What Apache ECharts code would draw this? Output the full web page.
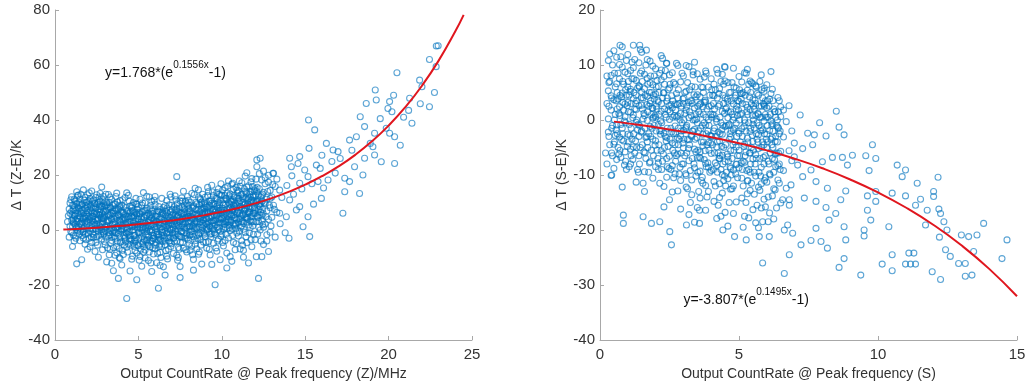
<!DOCTYPE html>
<html>
<head>
<meta charset="utf-8">
<script src="https://cdn.jsdelivr.net/npm/echarts@6/dist/echarts.min.js"></script>
<style>
  html, body { margin: 0; padding: 0; background: #fff; }
  #chart { width: 1029px; height: 390px; }
</style>
</head>
<body>
<div id="chart"></div>
<script>
// ΔT (Z-E) against output count rate at peak frequency (Z)
const zeScatter = [
  [0.8,5.2],[0.9,9.8],[0.9,1.4],[1.0,12.1],[1.0,3.6],[1.1,7.4],[1.1,-1.8],[1.2,10.6],[1.2,5.1],[1.3,0.8],[1.3,-12.3],[1.3,13.9],[1.4,8.2],[1.4,3.1],[1.5,-3.9],[1.5,6.7],[1.5,11.3],[1.6,1.9],[1.6,-10.8],[1.6,9.1],[1.7,4.4],[1.7,14.6],[1.7,-0.6],[1.8,7.9],[1.8,2.7],[1.8,-5.2],[1.9,10.2],[1.9,5.6],[1.9,0.3],[1.0,6.8],[1.2,2.2],[1.4,12.7],[1.6,6.0],[1.8,11.9],[1.1,4.0],[1.5,8.8],[1.7,-2.9],[1.9,3.3],[0.9,6.1],[1.3,9.4],
  [2.0,6.3],[2.0,-1.2],[2.1,11.4],[2.1,2.8],[2.2,8.1],[2.2,-4.6],[2.2,14.2],[2.3,4.9],[2.3,0.2],[2.4,9.7],[2.4,-7.8],[2.4,6.6],[2.5,2.1],[2.5,12.8],[2.5,-2.5],[2.6,7.3],[2.6,3.9],[2.6,-9.9],[2.7,10.5],[2.7,1.0],[2.7,5.4],[2.8,-3.3],[2.8,8.6],[2.8,15.6],[2.9,3.2],[2.9,-0.8],[2.9,6.9],[2.0,9.2],[2.1,4.5],[2.3,10.9],[2.4,1.6],[2.5,5.8],[2.6,-0.4],[2.7,13.3],[2.8,4.1],[2.9,9.6],[2.2,3.6],[2.6,10.1],[2.3,-2.7],[2.8,0.9],[2.1,-6.1],[2.9,12.2],
  [3.0,4.6],[3.0,-5.4],[3.0,10.3],[3.1,1.7],[3.1,7.2],[3.1,-11.6],[3.2,12.9],[3.2,3.4],[3.2,-2.2],[3.3,8.4],[3.3,-7.1],[3.3,5.5],[3.4,0.6],[3.4,11.1],[3.4,-3.8],[3.5,6.2],[3.5,-14.8],[3.5,2.6],[3.6,9.5],[3.6,-0.9],[3.6,-9.2],[3.7,4.3],[3.7,13.4],[3.7,-5.9],[3.8,7.6],[3.8,-17.6],[3.8,1.2],[3.9,10.7],[3.9,-2.9],[3.9,5.1],[3.0,1.1],[3.2,7.9],[3.4,4.0],[3.5,-6.4],[3.6,3.1],[3.8,-1.5],[3.9,8.1],[3.1,9.9],[3.3,-0.2],[3.7,-8.3],[3.3,12.0],[3.6,6.9],[3.9,-10.4],[3.4,-12.1],
  [4.0,3.7],[4.0,-4.2],[4.0,9.1],[4.1,0.4],[4.1,-8.9],[4.1,6.0],[4.2,11.8],[4.2,2.3],[4.2,-2.6],[4.3,-24.9],[4.3,7.1],[4.3,-6.3],[4.4,4.8],[4.4,-0.7],[4.4,12.6],[4.5,-14.9],[4.5,1.5],[4.5,8.7],[4.6,-3.4],[4.6,5.2],[4.6,-10.6],[4.7,10.0],[4.7,0.1],[4.7,3.0],[4.8,-7.5],[4.8,6.4],[4.8,-1.9],[4.9,-18.1],[4.9,9.3],[4.9,2.0],[4.0,-12.7],[4.2,5.6],[4.4,-5.1],[4.6,8.0],[4.8,1.1],[4.1,2.9],[4.3,-1.3],[4.5,4.2],[4.7,-4.8],[4.9,-8.4],[4.3,13.5],[4.7,6.6],[4.5,-2.1],[4.9,5.7],
  [5.0,3.9],[5.0,-5.7],[5.0,8.5],[5.1,0.8],[5.1,-9.6],[5.1,11.2],[5.2,4.7],[5.2,-2.4],[5.2,-13.2],[5.3,6.9],[5.3,1.4],[5.3,-4.4],[5.4,9.8],[5.4,-7.3],[5.4,2.6],[5.5,-0.5],[5.5,12.3],[5.5,5.3],[5.6,-11.1],[5.6,3.3],[5.6,-1.8],[5.7,7.7],[5.7,-6.2],[5.7,0.2],[5.8,-15.1],[5.8,4.5],[5.8,10.4],[5.9,-3.1],[5.9,1.9],[5.9,-8.7],[5.0,-1.0],[5.2,9.0],[5.4,-10.2],[5.6,6.1],[5.8,-4.0],[5.1,5.8],[5.3,-8.1],[5.5,2.0],[5.7,3.6],[5.9,6.8],[5.3,13.6],[5.6,-5.5],[5.0,1.7],[5.8,-0.9],
  [6.0,2.4],[6.0,-6.8],[6.0,9.4],[6.1,-1.6],[6.1,5.0],[6.1,-11.9],[6.2,-21.2],[6.2,3.8],[6.2,-3.7],[6.3,7.4],[6.3,0.6],[6.3,-8.2],[6.4,11.5],[6.4,-2.0],[6.4,4.1],[6.5,-13.4],[6.5,1.3],[6.5,8.2],[6.6,-5.4],[6.6,3.0],[6.6,-0.4],[6.7,6.3],[6.7,-9.5],[6.7,10.7],[6.8,-2.8],[6.8,1.8],[6.8,-7.0],[6.9,4.6],[6.9,-4.6],[6.9,13.0],[6.0,-3.2],[6.2,6.7],[6.4,-6.0],[6.6,8.9],[6.8,4.8],[6.1,1.2],[6.3,-5.2],[6.5,5.7],[6.7,-1.2],[6.9,0.0],[6.3,-12.9],[6.6,-16.4],[6.0,12.2],
  [7.0,3.5],[7.0,-5.0],[7.0,9.0],[7.1,0.9],[7.1,-8.5],[7.1,6.0],[7.2,12.4],[7.2,-1.7],[7.2,3.1],[7.3,19.4],[7.3,-4.1],[7.3,7.8],[7.4,1.6],[7.4,-10.0],[7.4,5.4],[7.5,10.6],[7.5,-2.3],[7.5,-13.3],[7.6,4.0],[7.6,8.4],[7.6,-0.6],[7.7,-6.6],[7.7,2.2],[7.7,14.1],[7.8,6.5],[7.8,-3.0],[7.8,0.3],[7.9,9.6],[7.9,-8.0],[7.9,4.4],[7.0,0.1],[7.2,7.3],[7.4,-6.4],[7.6,11.7],[7.8,2.7],[7.1,-2.8],[7.3,4.9],[7.5,1.0],[7.7,5.9],[7.9,-1.4],[7.5,-17.3],[7.3,-9.2],
  [8.0,4.8],[8.0,-3.6],[8.0,10.8],[8.1,1.3],[8.1,-7.4],[8.1,7.0],[8.2,13.3],[8.2,-0.4],[8.2,3.9],[8.3,-10.7],[8.3,8.9],[8.3,2.0],[8.4,5.6],[8.4,-5.2],[8.4,15.2],[8.5,0.7],[8.5,-2.1],[8.5,9.5],[8.6,4.2],[8.6,-8.8],[8.6,12.0],[8.7,6.6],[8.7,-1.0],[8.7,2.9],[8.8,-12.4],[8.8,10.1],[8.8,5.0],[8.9,-4.4],[8.9,8.0],[8.9,1.7],[8.0,7.7],[8.2,-5.9],[8.4,3.3],[8.6,14.6],[8.8,-0.2],[8.1,-1.9],[8.3,5.8],[8.5,-6.8],[8.7,11.4],[8.9,3.6],[8.3,-14.6],[8.7,-3.4],
  [9.0,5.7],[9.0,-2.4],[9.0,11.9],[9.1,2.3],[9.1,-6.6],[9.1,8.3],[9.2,14.0],[9.2,0.5],[9.2,4.6],[9.3,-9.1],[9.3,10.4],[9.3,6.9],[9.4,-1.3],[9.4,3.2],[9.4,16.3],[9.5,7.6],[9.5,-4.8],[9.5,12.5],[9.6,-19.9],[9.6,1.8],[9.6,9.2],[9.7,5.3],[9.7,-7.7],[9.7,13.6],[9.8,0.0],[9.8,6.2],[9.8,-3.3],[9.9,10.9],[9.9,3.9],[9.9,-10.8],[9.0,8.8],[9.2,-4.2],[9.4,9.7],[9.6,-1.6],[9.8,15.0],[9.1,4.1],[9.3,1.1],[9.5,3.4],[9.7,8.6],[9.9,7.1],[9.4,-12.5],[9.2,6.4],[9.8,2.6],
  [10.0,6.4],[10.0,-1.5],[10.0,12.7],[10.1,3.0],[10.1,-5.8],[10.1,9.3],[10.2,15.4],[10.2,1.0],[10.2,5.9],[10.3,-8.4],[10.3,11.0],[10.3,7.5],[10.4,-2.9],[10.4,3.7],[10.4,17.8],[10.5,8.2],[10.5,-0.3],[10.5,13.1],[10.6,-11.4],[10.6,5.0],[10.6,10.2],[10.7,1.9],[10.7,-4.5],[10.7,14.8],[10.8,6.8],[10.8,-7.2],[10.8,2.4],[10.9,11.8],[10.9,8.9],[10.9,-1.1],[10.0,4.3],[10.2,-3.8],[10.4,10.0],[10.6,16.6],[10.8,4.4],[10.1,0.2],[10.3,2.8],[10.5,5.6],[10.7,9.0],[10.9,3.8],[10.3,-13.8],[10.7,7.9],[10.5,-9.7],
  [11.0,7.3],[11.0,-2.2],[11.0,14.3],[11.1,4.1],[11.1,-6.9],[11.1,10.6],[11.2,17.2],[11.2,1.5],[11.2,8.0],[11.3,-9.9],[11.3,12.1],[11.3,5.5],[11.4,-0.9],[11.4,19.6],[11.4,9.4],[11.5,2.9],[11.5,15.6],[11.5,-4.6],[11.6,6.6],[11.6,11.4],[11.6,-12.0],[11.7,0.8],[11.7,13.9],[11.7,7.7],[11.8,-6.1],[11.8,4.9],[11.8,18.7],[11.9,9.9],[11.9,-1.6],[11.9,12.8],[11.0,2.6],[11.2,-3.9],[11.4,5.8],[11.6,16.1],[11.8,10.8],[11.1,15.9],[11.3,0.3],[11.5,8.7],[11.7,3.4],[11.9,6.2],[11.5,20.8],[11.3,-7.4],
  [12.0,6.0],[12.0,-3.5],[12.0,15.1],[12.1,25.5],[12.1,23.0],[12.1,10.4],[12.2,-17.6],[12.2,3.1],[12.2,12.6],[12.3,26.1],[12.3,0.0],[12.3,8.5],[12.4,18.2],[12.4,-9.7],[12.4,5.2],[12.5,13.7],[12.5,-5.3],[12.5,21.4],[12.6,9.6],[12.6,2.2],[12.6,16.8],[12.7,-1.7],[12.7,11.2],[12.7,6.9],[12.8,19.9],[12.8,-7.8],[12.8,3.8],[12.9,14.4],[12.9,8.1],[12.9,-0.8],[13.0,12.0],[13.0,4.6],[13.1,20.6],[13.1,9.0],[13.2,-2.6],[13.2,15.8],[13.3,6.4],[12.2,7.4],[12.5,1.0],[12.8,17.4],
  [13.47,14.5],[14.07,10.9],[14.67,8.5],[14.47,7.3],[15.17,4.8],[13.87,4.8],[14.87,1.2],[15.27,-2.4],[14.03,-3.0],[13.47,6.1],[13.07,20.6],[14.07,26.1],[14.17,23.0],[14.57,24.2],[14.97,21.8],[15.17,19.4],[15.77,17.6],[14.67,17.0],[14.67,26.7],[15.67,23.6],[16.37,18.2],[15.97,11.5],[17.26,6.1],[17.37,13.9],[18.26,13.3],[17.66,17.6],[17.37,18.8],[18.46,20.0],[17.96,23.0],[18.56,26.1],[19.16,27.3],[19.56,24.8],[20.36,24.2],[19.06,30.3],[15.23,29.7],[16.97,28.5],[16.67,29.1],[16.27,31.5],[15.57,36.4],[15.2,40.0],[18.56,37.6],[17.66,32.7],[18.07,33.9],[19.16,35.2],[20.36,33.9],[20.06,35.2],[19.86,37.0],[19.96,44.2],[20.2,43.0],[20.06,46.7],[19.26,47.3],[18.66,46.0],[19.2,50.9],[21.4,38.8],[20.9,41.0],[21.26,47.9],[22.0,52.1],[22.45,44.8],[22.75,50.0],[21.86,54.5],[20.5,57.2],[22.85,59.4],[22.45,62.0],[22.86,66.9],[22.97,67.0],
  [13.3,18.5],[13.6,11.8],[13.9,16.2],[14.3,13.0],[14.8,14.9],[15.4,16.8],[15.9,22.4],[16.1,15.3],[16.6,24.9],[16.8,20.7],[17.1,26.0],[13.5,2.3],[13.8,-1.0],[14.2,19.7],[15.5,9.4],[16.0,27.2],[17.8,29.0],[18.9,31.5],[19.5,40.5],[20.7,30.8],[21.2,43.5],[21.9,45.9],[20.3,49.0],[18.3,41.2],[12.07,-9.7]
];

// Heavily populated band below 13 MHz
const zeDense = [
  [0.75,3.0],[0.85,7.6],[0.95,-0.5],[1.05,9.0],[1.05,1.2],[1.15,5.5],[1.15,11.2],[1.25,-3.0],[1.25,7.0],[1.35,4.2],[1.35,0.0],[1.45,10.0],[1.45,-1.5],[0.95,11.0],[1.15,-4.0],[1.35,12.5],[0.85,-2.6],[1.25,3.5],[1.45,5.2],[1.05,-6.0],
  [1.55,2.5],[1.55,13.0],[1.65,-2.0],[1.65,7.5],[1.75,10.8],[1.75,1.2],[1.85,5.0],[1.85,-3.5],[1.95,8.4],[1.95,12.8],[2.05,-3.0],[2.05,3.8],[2.15,7.0],[2.15,0.5],[2.25,10.5],[2.25,-1.3],[2.35,6.0],[2.35,2.8],[2.45,-4.5],[2.45,11.8],[1.65,4.0],[1.85,9.0],[2.05,13.5],[2.25,5.0],[2.45,8.2],[1.95,-7.0],
  [2.55,4.2],[2.55,-5.5],[2.65,9.1],[2.65,1.5],[2.75,-1.8],[2.75,7.6],[2.85,11.0],[2.85,2.2],[2.95,-4.2],[2.95,5.5],[3.05,8.8],[3.05,-2.6],[3.15,3.5],[3.15,-6.5],[3.25,10.0],[3.25,0.5],[3.35,6.4],[3.35,-4.8],[3.45,2.0],[3.45,8.9],[2.65,12.0],[2.85,-7.2],[3.05,13.0],[3.25,-9.0],[3.45,-1.0],[2.75,4.6],
  [3.55,4.0],[3.55,-2.4],[3.65,7.9],[3.65,0.8],[3.75,-4.2],[3.75,10.2],[3.85,3.6],[3.85,-6.8],[3.95,6.5],[3.95,-0.5],[4.05,1.5],[4.05,11.0],[4.15,-5.5],[4.15,4.5],[4.25,8.2],[4.25,-1.0],[4.35,2.5],[4.35,-8.0],[4.45,6.0],[4.45,-3.2],[3.65,12.2],[3.85,-10.0],[4.05,-7.4],[4.25,0.9],[4.45,10.5],[3.95,2.0],
  [4.55,3.0],[4.55,-4.0],[4.65,7.0],[4.65,-0.2],[4.75,-6.0],[4.75,1.8],[4.85,9.5],[4.85,-2.8],[4.95,4.0],[4.95,-5.5],[5.05,6.2],[5.05,-0.8],[5.15,2.8],[5.15,-7.0],[5.25,9.8],[5.25,0.0],[5.35,-3.5],[5.35,4.5],[5.45,-1.8],[5.45,7.2],[4.65,-9.5],[4.85,11.5],[5.05,-11.0],[5.25,-5.0],[5.45,1.0],[4.75,5.2],
  [5.55,0.8],[5.55,-4.8],[5.65,4.8],[5.65,-8.0],[5.75,1.6],[5.75,9.0],[5.85,-2.0],[5.85,-6.5],[5.95,3.8],[5.95,10.8],[6.05,0.5],[6.05,-4.5],[6.15,7.0],[6.15,-8.5],[6.25,1.8],[6.25,-2.6],[6.35,4.6],[6.35,-10.0],[6.45,-0.8],[6.45,6.4],[5.65,12.0],[5.85,6.0],[6.05,3.2],[6.25,-6.0],[6.45,-4.2],[5.75,-12.0],
  [6.55,2.0],[6.55,-3.0],[6.65,6.8],[6.65,-7.5],[6.75,0.4],[6.75,4.0],[6.85,-4.0],[6.85,9.2],[6.95,2.5],[6.95,-6.0],[7.05,5.5],[7.05,-1.0],[7.15,8.5],[7.15,-4.2],[7.25,1.5],[7.25,11.0],[7.35,-1.5],[7.35,5.0],[7.45,-7.0],[7.45,3.0],[6.75,-10.5],[6.95,12.0],[7.15,2.2],[7.35,-11.0],[6.65,1.0],[7.45,8.0],
  [7.55,6.0],[7.55,-0.5],[7.65,3.0],[7.65,-4.5],[7.75,9.0],[7.75,0.8],[7.85,-2.2],[7.85,4.5],[7.95,12.2],[7.95,1.5],[8.05,-5.0],[8.05,6.5],[8.15,3.0],[8.15,10.0],[8.25,-1.5],[8.25,6.0],[8.35,0.5],[8.35,12.8],[8.45,-3.8],[8.45,7.5],[7.65,10.5],[7.85,-7.2],[8.05,1.0],[8.25,-9.0],[8.45,3.0],[7.75,5.2],
  [8.55,5.0],[8.55,-3.0],[8.65,9.0],[8.65,1.0],[8.75,-5.5],[8.75,7.5],[8.85,13.0],[8.85,2.5],[8.95,-1.5],[8.95,10.2],[9.05,4.0],[9.05,-4.5],[9.15,12.5],[9.15,6.0],[9.25,1.5],[9.25,9.0],[9.35,-2.5],[9.35,4.8],[9.45,13.8],[9.45,7.0],[8.65,-8.0],[8.85,6.2],[9.05,0.2],[9.25,-7.0],[9.45,0.5],[9.15,15.5],
  [9.55,5.5],[9.55,-1.0],[9.65,11.5],[9.65,3.8],[9.75,-4.0],[9.75,8.0],[9.85,13.0],[9.85,1.0],[9.95,5.8],[9.95,-2.2],[10.05,9.8],[10.05,14.5],[10.15,2.0],[10.15,7.2],[10.25,-1.5],[10.25,11.5],[10.35,5.0],[10.35,16.0],[10.45,0.8],[10.45,7.8],[9.65,-6.5],[9.85,9.2],[10.05,-4.5],[10.25,3.5],[10.45,12.5],[9.95,16.8],
  [10.55,10.5],[10.55,2.8],[10.65,7.0],[10.65,-2.0],[10.75,12.0],[10.75,4.5],[10.85,15.5],[10.85,0.5],[10.95,6.5],[10.95,13.5],[11.05,9.8],[11.05,-0.5],[11.15,5.0],[11.15,12.8],[11.25,3.0],[11.25,10.0],[11.35,15.0],[11.35,7.0],[11.45,-2.5],[11.45,11.8],[10.65,17.0],[10.85,-5.0],[11.05,17.8],[11.25,-5.5],[11.45,4.5],[10.75,8.5],
  [11.55,9.5],[11.55,4.0],[11.65,13.0],[11.65,-1.0],[11.75,10.5],[11.75,17.5],[11.85,6.0],[11.85,1.5],[11.95,14.5],[11.95,8.2],[12.05,3.0],[12.05,18.5],[12.15,11.0],[12.15,-1.5],[12.25,15.0],[12.25,5.5],[12.35,9.8],[12.35,-4.0],[12.45,13.0],[12.45,2.0],[11.65,6.5],[11.85,15.8],[12.05,10.0],[12.25,20.5],[11.75,-3.5],[12.45,7.5],
  [12.55,10.0],[12.65,4.8],[12.75,14.0],[12.85,9.0],[12.95,1.5],[13.05,16.5],[13.15,7.5],[12.6,19.0],[12.9,11.5],[12.7,-4.0]
];

// Centre of the band, where the circles overlap most
const zeCore = [
  [1.02,5.5],[1.02,-1.0],[1.12,8.8],[1.12,2.5],[1.22,6.0],[1.22,-2.2],[1.32,9.8],[1.32,3.2],[1.42,1.0],[1.42,7.8],[1.52,4.5],[1.52,-0.5],[1.62,9.5],[1.62,3.0],[1.72,6.2],[1.72,0.5],[1.82,-1.5],[1.82,4.2],[1.92,7.0],[1.92,1.8],
  [2.02,10.5],[2.02,5.0],[2.12,-0.5],[2.12,9.0],[2.22,2.0],[2.22,6.5],[2.32,8.0],[2.32,-1.8],[2.42,4.0],[2.42,0.5],[2.52,9.5],[2.52,3.5],[2.62,5.5],[2.62,-2.0],[2.72,8.5],[2.72,2.5],[2.82,0.2],[2.82,6.0],[2.92,-1.5],[2.92,4.0],
  [3.02,6.8],[3.02,-0.2],[3.12,3.0],[3.12,9.2],[3.22,5.2],[3.22,-1.0],[3.32,1.5],[3.32,8.0],[3.42,6.0],[3.42,-2.5],[3.52,0.0],[3.52,9.5],[3.62,4.8],[3.62,-3.0],[3.72,1.2],[3.72,7.2],[3.82,5.5],[3.82,-0.2],[3.92,3.0],[3.92,-4.5],
  [4.02,6.5],[4.02,0.0],[4.12,-2.0],[4.12,8.5],[4.22,3.8],[4.22,-4.0],[4.32,5.0],[4.32,0.5],[4.42,-1.8],[4.42,2.8],[4.52,6.5],[4.52,-5.5],[4.62,1.2],[4.62,9.0],[4.72,-2.0],[4.72,4.5],[4.82,3.2],[4.82,-4.2],[4.92,0.8],[4.92,7.5],
  [5.02,-3.0],[5.02,5.0],[5.12,2.0],[5.12,-5.0],[5.22,6.5],[5.22,-1.0],[5.32,3.0],[5.32,-6.0],[5.42,0.5],[5.42,5.5],[5.52,-3.5],[5.52,8.0],[5.62,1.5],[5.62,-2.5],[5.72,5.5],[5.72,-4.0],[5.82,0.0],[5.82,7.0],[5.92,-2.0],[5.92,3.5],
  [6.02,5.0],[6.02,-5.5],[6.12,-0.5],[6.12,3.0],[6.22,8.5],[6.22,-1.5],[6.32,2.5],[6.32,-3.5],[6.42,6.0],[6.42,0.2],[6.52,-2.0],[6.52,3.5],[6.62,5.5],[6.62,-4.0],[6.72,1.5],[6.72,8.0],[6.82,-1.0],[6.82,3.5],[6.92,6.5],[6.92,-2.5],
  [7.02,2.0],[7.02,7.5],[7.12,-3.0],[7.12,4.0],[7.22,5.5],[7.22,-0.5],[7.32,2.0],[7.32,9.5],[7.42,-2.0],[7.42,6.5],[7.52,3.5],[7.52,-4.5],[7.62,6.0],[7.62,1.5],[7.72,-1.0],[7.72,8.0],[7.82,4.0],[7.82,10.5],[7.92,-3.0],[7.92,6.0],
  [8.02,2.5],[8.02,9.0],[8.12,5.0],[8.12,-0.5],[8.22,8.0],[8.22,1.5],[8.32,4.0],[8.32,-2.5],[8.42,10.0],[8.42,1.0],[8.52,6.0],[8.52,3.0],[8.62,-1.5],[8.62,7.5],[8.72,4.5],[8.72,11.0],[8.82,1.0],[8.82,7.8],[8.92,5.5],[8.92,-1.0],
  [9.02,9.5],[9.02,2.5],[9.12,6.5],[9.12,0.0],[9.22,3.0],[9.22,10.5],[9.32,7.5],[9.32,-1.5],[9.42,5.0],[9.42,1.5],[9.52,9.5],[9.52,0.0],[9.62,6.5],[9.62,3.5],[9.72,11.5],[9.72,1.0],[9.82,7.0],[9.82,4.0],[9.92,-0.5],[9.92,12.5],
  [10.02,2.5],[10.02,8.0],[10.12,5.5],[10.12,11.0],[10.22,9.0],[10.22,3.0],[10.32,0.5],[10.32,13.5],[10.42,6.0],[10.42,1.8],[10.52,11.0],[10.52,3.5],[10.62,7.5],[10.62,0.5],[10.72,12.5],[10.72,5.5],[10.82,9.5],[10.82,2.0],[10.92,6.0],[10.92,14.5],
  [11.02,4.0],[11.02,11.5],[11.12,8.5],[11.12,1.0],[11.22,13.0],[11.22,5.5],[11.32,9.0],[11.32,2.5],[11.42,14.0],[11.42,7.5],[11.52,4.5],[11.52,11.0],[11.62,8.5],[11.62,1.8],[11.72,12.0],[11.72,5.0],[11.82,8.0],[11.82,14.0],[11.92,3.0],[11.92,10.5],
  [12.02,7.0],[12.02,12.5],[12.12,5.0],[12.12,15.5],[12.22,9.0],[12.22,1.0],[12.32,12.0],[12.32,6.5],[12.42,10.5],[12.42,3.5],
  [1.08,3.0],[1.18,8.2],[1.28,0.8],[1.38,6.0],[1.48,2.2],[1.58,7.0],[1.68,-0.8],[1.78,4.8],[1.88,10.0],[1.98,2.8],[2.08,7.6],[2.18,-2.5],[2.28,3.2],[2.38,9.5],[2.48,5.8],[2.58,0.5],[2.68,6.5],[2.78,-0.5],[2.88,4.5],[2.98,8.5],
  [3.08,1.0],[3.18,5.8],[3.28,-1.8],[3.38,3.8],[3.48,7.0],[3.58,1.8],[3.68,-1.2],[3.78,5.5],[3.88,8.8],[3.98,0.5],[4.08,4.2],[4.18,-3.0],[4.28,2.0],[4.38,6.8],[4.48,-0.5],[4.58,4.8],[4.68,1.5],[4.78,-3.5],[4.88,6.0],[4.98,2.2],
  [5.08,-1.5],[5.18,4.0],[5.28,0.8],[5.38,7.0],[5.48,-4.0],[5.58,2.8],[5.68,-0.5],[5.78,4.2],[5.88,-3.0],[5.98,1.0],[6.08,6.5],[6.18,-2.0],[6.28,4.0],[6.38,-0.8],[6.48,2.5],[6.58,7.0],[6.68,-2.8],[6.78,3.0],[6.88,0.5],[6.98,5.0],
  [7.08,-1.5],[7.18,3.5],[7.28,7.0],[7.38,0.5],[7.48,4.5],[7.58,-2.5],[7.68,3.8],[7.78,7.5],[7.88,1.0],[7.98,5.0],[8.08,-1.8],[8.18,4.5],[8.28,8.5],[8.38,2.5],[8.48,5.5],[8.58,0.2],[8.68,4.0],[8.78,9.5],[8.88,3.5],[8.98,6.5],
  [9.08,1.0],[9.18,8.0],[9.28,4.5],[9.38,11.0],[9.48,2.5],[9.58,7.5],[9.68,5.0],[9.78,10.0],[9.88,2.5],[9.98,7.0],[10.08,4.5],[10.18,12.5],[10.28,6.5],[10.38,3.0],[10.48,9.5],[10.58,5.5],[10.68,11.0],[10.78,1.5],[10.88,8.0],[10.98,10.5],
  [11.08,6.0],[11.18,3.0],[11.28,11.5],[11.38,8.0],[11.48,13.5],[11.58,6.0],[11.68,10.0],[11.78,3.0],[11.88,12.0],[11.98,7.5],[12.08,14.0],[12.18,4.5],[12.28,9.5],[12.38,12.5],[12.48,6.0]
];

// Fitted curve y = 1.768*(e^(0.1556x) - 1), sampled
const zeFitX = [0.5, 1, 2, 3, 4, 5, 6, 7, 8, 9, 10, 11, 12, 13, 14, 15, 16, 17, 18, 19, 20, 21, 22, 23, 24, 24.5];
const zeFitY = [0.143, 0.298, 0.646, 1.052, 1.526, 2.081, 2.729, 3.487, 4.371, 5.405, 6.613, 8.024, 9.673, 11.599, 13.849, 16.479, 19.551, 23.141, 27.334, 32.234, 37.959, 44.648, 52.463, 61.594, 72.263, 78.253];

// ΔT (S-E) against output count rate at peak frequency (S)
const seScatter = [
  [0.2,-6.0],[0.3,-2.2],[0.3,5.3],[0.3,10.8],[0.4,-10.1],[0.4,1.8],[0.4,8.1],[0.5,-4.4],[0.5,3.7],[0.5,12.6],[0.6,-0.9],[0.6,6.6],[0.6,-7.2],[0.7,10.1],[0.7,2.4],[0.7,-3.1],[0.8,13.3],[0.8,4.9],[0.8,-1.5],[0.9,8.7],[0.9,-5.8],[0.9,0.6],[0.6,11.4],[0.4,4.4],[0.7,7.5],[0.9,2.9],[0.5,-8.8],[0.8,-12.2],[0.3,0.2],[0.8,9.6],
  [1.0,6.0],[1.0,-2.6],[1.0,11.9],[1.1,1.4],[1.1,-8.0],[1.1,9.0],[1.2,13.6],[1.2,3.9],[1.2,-4.9],[1.3,7.2],[1.3,-0.4],[1.3,-11.3],[1.4,10.4],[1.4,2.6],[1.4,-6.5],[1.5,5.1],[1.5,-2.0],[1.5,12.3],[1.6,-9.4],[1.6,0.8],[1.6,8.3],[1.7,4.3],[1.7,-4.0],[1.7,11.0],[1.8,-1.2],[1.8,6.8],[1.8,-7.6],[1.9,2.1],[1.9,9.8],[1.9,-3.5],[1.0,3.2],[1.1,-5.3],[1.2,0.9],[1.3,4.5],[1.4,-3.0],[1.5,8.9],[1.6,5.7],[1.7,-0.1],[1.8,3.0],[1.9,6.4],[1.2,9.5],[1.4,6.2],[1.6,-13.0],[1.8,10.7],[1.9,-10.6],[1.3,1.9],[1.7,7.6],[1.1,5.6],[1.5,2.7],[1.9,0.3],[1.0,8.4],
  [2.0,4.7],[2.0,-3.8],[2.0,9.3],[2.1,-0.8],[2.1,6.1],[2.1,-9.0],[2.2,11.7],[2.2,1.6],[2.2,-5.6],[2.3,7.9],[2.3,-2.4],[2.3,-12.1],[2.4,3.4],[2.4,10.3],[2.4,-7.0],[2.5,0.1],[2.5,5.8],[2.5,-14.5],[2.6,8.6],[2.6,-4.2],[2.6,2.2],[2.7,-9.8],[2.7,6.5],[2.7,-1.1],[2.8,4.0],[2.8,-6.2],[2.8,9.9],[2.9,-2.9],[2.9,1.2],[2.9,-11.0],[2.0,0.5],[2.2,-1.9],[2.4,-3.2],[2.6,-8.3],[2.8,0.7],[2.1,3.3],[2.3,4.9],[2.5,-6.6],[2.7,2.9],[2.9,6.9],[2.3,-15.8],[2.6,-13.1],[2.9,-16.2],[2.2,7.3],[2.5,8.2],[2.8,-12.9],[2.1,-7.8],[2.4,-10.4],[2.7,-4.5],[2.0,-8.5],
  [3.0,3.0],[3.0,-5.1],[3.0,8.0],[3.1,-1.3],[3.1,5.2],[3.1,-10.1],[3.2,9.7],[3.2,0.4],[3.2,-7.4],[3.3,6.1],[3.3,-3.0],[3.3,-13.6],[3.4,2.2],[3.4,10.5],[3.4,-8.7],[3.5,-0.5],[3.5,4.6],[3.5,-15.9],[3.6,7.4],[3.6,-5.8],[3.6,1.1],[3.7,-11.5],[3.7,5.9],[3.7,-2.6],[3.8,3.3],[3.8,-7.9],[3.8,8.9],[3.9,-4.1],[3.9,0.0],[3.9,-13.0],[3.0,-1.9],[3.2,-3.6],[3.4,-1.7],[3.6,-9.3],[3.8,-0.9],[3.1,1.8],[3.3,3.5],[3.5,-6.9],[3.7,2.4],[3.9,6.0],[3.2,-17.2],[3.6,-14.2],[3.4,-18.6],[3.8,-16.4],[3.1,-12.2],[3.5,8.4],[3.9,-8.6],[3.3,-10.9],[3.7,-4.7],[3.0,-8.0],[3.6,4.2],[3.8,-11.9],[3.1,9.9],[3.4,-5.3],
  [4.0,2.6],[4.0,-6.1],[4.0,7.5],[4.1,-2.0],[4.1,4.4],[4.1,-11.2],[4.2,9.2],[4.2,-0.3],[4.2,-8.3],[4.3,5.7],[4.3,-3.8],[4.3,-14.1],[4.4,1.6],[4.4,8.3],[4.4,-9.9],[4.5,-1.2],[4.5,4.0],[4.5,-16.8],[4.6,6.8],[4.6,-6.7],[4.6,0.4],[4.7,-12.6],[4.7,5.0],[4.7,-3.1],[4.8,2.9],[4.8,-9.1],[4.8,9.4],[4.9,-4.9],[4.9,-0.6],[4.9,-14.9],[4.0,-2.9],[4.2,-4.9],[4.4,-2.6],[4.6,-10.7],[4.8,-1.8],[4.1,0.9],[4.3,2.8],[4.5,-7.6],[4.7,1.5],[4.9,5.8],[4.2,-17.9],[4.6,-19.3],[4.4,-13.3],[4.8,-17.0],[4.1,-14.8],[4.5,7.1],[4.9,-8.1],[4.3,-11.6],[4.7,-5.6],[4.0,-9.2],[4.6,3.4],[4.8,-12.0],[4.1,6.5],[4.4,-6.4],[4.5,9.6],[4.9,2.0],[4.3,-7.0],[4.7,-8.8],
  [5.0,3.4],[5.0,-5.5],[5.0,7.9],[5.1,-1.6],[5.1,4.8],[5.1,-10.6],[5.2,8.6],[5.2,0.0],[5.2,-7.7],[5.3,5.4],[5.3,-3.3],[5.3,-13.4],[5.4,1.9],[5.4,7.1],[5.4,-9.5],[5.5,-0.8],[5.5,3.7],[5.5,-16.3],[5.6,6.2],[5.6,-6.3],[5.6,0.8],[5.7,-12.2],[5.7,4.5],[5.7,-2.7],[5.8,2.5],[5.8,-8.6],[5.8,8.2],[5.9,-4.5],[5.9,-0.2],[5.9,-14.4],[5.0,-2.4],[5.2,-4.4],[5.4,-2.1],[5.6,-10.2],[5.8,-1.4],[5.1,1.2],[5.3,2.3],[5.5,-7.1],[5.7,1.0],[5.9,5.2],[5.2,-17.5],[5.6,-18.7],[5.4,-12.8],[5.8,-16.0],[5.1,-14.2],[5.5,6.6],[5.9,-8.0],[5.3,-11.1],[5.7,-5.2],[5.0,-8.7],[5.6,3.0],[5.8,-11.6],[5.1,6.9],[5.4,-6.0],[5.3,9.2],[5.7,-19.6],[5.5,-3.9],[5.9,2.8],
  [6.0,2.2],[6.0,-5.0],[6.0,6.4],[6.1,-1.9],[6.1,3.8],[6.1,-9.8],[6.2,5.6],[6.2,-0.7],[6.2,-7.0],[6.3,1.5],[6.3,-3.9],[6.3,-12.7],[6.4,4.1],[6.4,-8.3],[6.4,-1.3],[6.5,0.6],[6.5,-5.7],[6.5,-15.1],[6.0,-11.3],[6.2,-3.2],[6.4,-10.9],[6.1,-16.9],[6.3,-6.2],[6.0,-2.6],[6.2,-13.8],[6.5,2.4],
  [6.6,-3.1],[6.7,-0.3],[6.8,-5.6],[6.6,-9.2],[6.9,-2.0],[6.7,-12.4],[6.6,1.8],[6.9,-7.4],[6.8,2.6],[7.2,0.9],[7.9,-0.5],[8.5,1.6],
  [6.15,8.8],[4.48,9.7],[3.35,8.8],[3.82,8.5],[4.24,8.5],[5.26,8.5],[2.75,10.3],[2.39,10.3],[2.21,9.1],[1.67,12.7],[1.43,13.6],[0.72,13.6],[5.91,5.8],
  [0.42,-10.0],[0.84,-17.3],[0.84,-18.8],[1.55,-17.6],[1.85,-18.8],[2.15,-18.5],[2.51,-20.3],[2.57,-22.7],[3.11,-19.1],[3.58,-18.8],[3.58,-16.4],[4.42,-20.0],[4.84,-21.2],[5.26,-21.8],[5.73,-21.2],[6.09,-21.2],[5.85,-26.0],
  [9.8,-4.5],[10.69,-8.2],[10.99,-9.1],[10.87,-10.3],[11.41,-11.5],[12.16,-10.4],[12.0,-13.0],[12.0,-13.9],[11.53,-14.4],[11.35,-15.5],[10.99,-13.8],[10.51,-13.3],[9.92,-13.0],[9.62,-13.8],[9.92,-14.8],[11.77,-16.4],[12.19,-16.2],[12.25,-17.0],[12.37,-18.5],[11.71,-19.1],[12.48,-20.0],[12.21,-21.3],[13.0,-20.9],[13.26,-21.2],[13.56,-20.9],[13.8,-18.8],[14.64,-21.8],[14.46,-25.2],[13.38,-28.2],[13.14,-28.4],[12.25,-29.0],[11.95,-27.6],[12.43,-23.6],[12.6,-24.8],[12.9,-26.1],[13.14,-26.1],[13.44,-23.9],[11.35,-26.2],[11.17,-26.2],[10.99,-26.2],[11.11,-24.2],[11.29,-24.2],[10.51,-24.5],[10.15,-26.2],[10.51,-27.4],[9.38,-28.2],[8.6,-26.8],[8.78,-25.2],[8.84,-21.8],[8.18,-23.3],[7.95,-22.1],[7.59,-21.9],[7.23,-22.7],[6.81,-24.5],[6.63,-27.9],[7.77,-19.7],[8.24,-18.2],[8.78,-19.4],[9.5,-20.0],[9.5,-21.1],[10.39,-19.4],[9.74,-18.2],[9.62,-16.4],[8.48,-17.0],[8.13,-15.9],[7.77,-14.8],[8.66,-14.5],[8.84,-12.9],[8.18,-12.4],[7.77,-11.2],[7.71,-2.7],[8.13,-2.9],[8.6,-1.3],[8.78,-2.7],[9.08,-6.4],[9.56,-6.5],[9.92,-7.0],[9.68,-9.2],[8.9,-8.2],[8.72,-6.8],[8.36,-6.8],[8.0,-7.6],[7.59,-9.1],[7.29,-10.3],[6.99,-4.2],[7.29,-5.2],[7.65,-4.5],[7.47,-2.4],[6.99,-6.7],[7.11,-8.2],[6.87,-11.8],[7.35,-14.2],[6.81,-14.5],[6.57,-14.5],[6.75,-19.1],[6.63,-20.0],[6.93,-20.6],[6.81,-15.5]
];

// Heavily populated block below 6.5
const seDense = [
  [0.25,3.0],[0.25,-8.0],[0.35,7.0],[0.35,-4.5],[0.45,-1.0],[0.45,10.0],[0.55,1.0],[0.55,6.0],[0.65,-5.0],[0.65,3.8],[0.75,-0.8],[0.75,11.5],[0.85,6.5],[0.85,-3.8],[0.95,4.5],[0.95,-9.0],[0.45,-6.5],[0.65,8.5],[0.85,1.8],[0.35,12.0],[0.55,-2.8],[0.95,10.8],[0.75,-6.8],[0.25,8.0],
  [1.05,4.5],[1.05,-0.8],[1.15,7.5],[1.15,-3.5],[1.25,11.0],[1.25,2.0],[1.35,-1.8],[1.35,5.8],[1.45,8.5],[1.45,-5.0],[1.55,0.2],[1.55,4.0],[1.65,-7.0],[1.65,10.0],[1.75,2.5],[1.75,-2.5],[1.85,5.0],[1.85,-5.5],[1.95,8.0],[1.95,-1.0],[1.05,-8.5],[1.25,-6.0],[1.45,12.8],[1.65,-3.2],[1.85,1.0],[1.35,-9.0],[1.55,-11.5],[1.75,-9.5],[1.15,10.5],[1.95,3.8],
  [2.05,2.0],[2.05,-5.5],[2.15,8.5],[2.15,-2.0],[2.25,4.0],[2.25,-7.5],[2.35,1.0],[2.35,9.0],[2.45,-4.8],[2.45,5.5],[2.55,-1.5],[2.55,2.8],[2.65,-10.5],[2.65,6.8],[2.75,0.5],[2.75,-6.5],[2.85,3.0],[2.85,-3.5],[2.95,-8.0],[2.95,8.5],[2.15,-11.5],[2.35,-3.0],[2.55,-9.0],[2.75,4.8],[2.95,-0.5],[2.25,11.2],[2.45,1.8],[2.65,-2.5],[2.85,-9.8],[2.05,7.2],
  [3.05,1.2],[3.05,-6.5],[3.15,6.8],[3.15,-3.5],[3.25,3.5],[3.25,-9.2],[3.35,0.0],[3.35,8.2],[3.45,-5.8],[3.45,4.2],[3.55,-2.0],[3.55,1.5],[3.65,-11.0],[3.65,6.0],[3.75,-0.5],[3.75,-7.2],[3.85,2.0],[3.85,-4.5],[3.95,-9.5],[3.95,4.5],[3.15,-12.5],[3.35,-2.0],[3.55,-13.0],[3.75,3.2],[3.95,-2.8],[3.25,-15.0],[3.45,-10.2],[3.65,-4.0],[3.85,-14.0],[3.05,5.0],[3.45,1.0],[3.75,7.8],
  [4.05,1.0],[4.05,-4.5],[4.15,5.5],[4.15,-7.8],[4.25,2.5],[4.25,-2.2],[4.35,-0.5],[4.35,7.0],[4.45,-5.0],[4.45,3.0],[4.55,-1.0],[4.55,-9.5],[4.65,5.0],[4.65,-3.5],[4.75,1.0],[4.75,-7.0],[4.85,4.0],[4.85,-4.0],[4.95,-10.5],[4.95,0.8],[4.15,-12.0],[4.35,-9.0],[4.55,2.2],[4.75,-12.5],[4.95,-6.5],[4.25,-15.5],[4.45,-11.0],[4.65,-15.0],[4.85,-1.5],[4.05,4.5],[4.45,6.5],[4.75,6.8],[4.25,-6.0],[4.65,-0.8],[4.95,3.5],[4.35,-17.5],
  [5.05,1.0],[5.05,-4.0],[5.15,5.0],[5.15,-7.5],[5.25,2.8],[5.25,-2.0],[5.35,-0.5],[5.35,6.5],[5.45,-5.0],[5.45,3.0],[5.55,-1.5],[5.55,-9.5],[5.65,4.8],[5.65,-3.5],[5.75,0.5],[5.75,-7.0],[5.85,4.0],[5.85,-4.0],[5.95,-10.5],[5.95,1.0],[5.15,-12.0],[5.35,-9.0],[5.55,2.0],[5.75,-12.8],[5.95,-6.5],[5.25,-15.0],[5.45,-11.5],[5.65,-15.5],[5.85,-1.8],[5.05,4.8],[5.45,6.8],[5.75,7.0],[5.25,-5.8],[5.65,-0.5],[5.95,3.5],[5.35,-17.8],[5.55,-13.5],[5.85,-18.5],[5.15,-19.5],[5.95,-15.8],
  [6.05,0.5],[6.05,-7.5],[6.15,4.8],[6.15,-3.5],[6.25,-9.5],[6.25,2.0],[6.35,-1.0],[6.35,-6.0],[6.45,3.5],[6.45,-11.5],[6.05,-14.0],[6.25,-12.5],[6.15,-0.2],[6.35,-16.0],[6.45,-2.5],[6.05,-18.5],[6.25,-18.0],[6.45,-8.0]
];

// Centre of the block, where the circles overlap most
const seCore = [
  [0.32,2.5],[0.32,-3.0],[0.32,6.8],[0.42,-1.5],[0.42,4.0],[0.42,-6.0],[0.52,8.5],[0.52,0.0],[0.52,-4.0],[0.62,2.0],[0.62,5.0],[0.62,-2.5],[0.72,-5.5],[0.72,4.5],[0.72,0.8],[0.82,7.0],[0.82,-2.5],[0.82,3.2],[0.92,-0.5],[0.92,5.5],[0.92,-7.5],
  [1.02,1.5],[1.02,7.0],[1.02,-4.0],[1.12,-1.5],[1.12,3.0],[1.12,-6.5],[1.22,5.0],[1.22,-2.5],[1.22,7.5],[1.32,0.0],[1.32,3.5],[1.32,-5.0],[1.42,6.0],[1.42,-1.0],[1.42,-8.0],[1.52,2.0],[1.52,-4.5],[1.52,7.0],[1.62,-1.5],[1.62,4.5],[1.62,-6.0],[1.72,1.5],[1.72,6.5],[1.72,-5.0],[1.82,-3.0],[1.82,3.5],[1.82,8.0],[1.92,0.5],[1.92,-6.5],[1.92,4.5],
  [2.02,-2.0],[2.02,2.5],[2.02,6.0],[2.12,-4.5],[2.12,1.0],[2.12,5.0],[2.22,-0.5],[2.22,3.0],[2.22,-9.0],[2.32,2.0],[2.32,-5.0],[2.32,6.5],[2.42,-1.5],[2.42,-8.5],[2.42,4.0],[2.52,1.5],[2.52,-3.5],[2.52,6.5],[2.62,-5.5],[2.62,0.5],[2.62,3.5],[2.72,-2.5],[2.72,-7.5],[2.72,1.8],[2.82,5.5],[2.82,-1.5],[2.82,-4.5],[2.92,2.5],[2.92,-6.0],[2.92,-2.0],
  [3.02,0.0],[3.02,4.0],[3.02,-3.5],[3.12,-6.0],[3.12,2.5],[3.12,-1.0],[3.22,1.5],[3.22,-4.5],[3.22,5.5],[3.32,-2.0],[3.32,-7.0],[3.32,3.0],[3.42,0.0],[3.42,-3.5],[3.42,6.0],[3.52,2.5],[3.52,-5.5],[3.52,-9.5],[3.62,-1.5],[3.62,3.0],[3.62,-7.0],[3.72,1.0],[3.72,-4.0],[3.72,5.0],[3.82,-2.5],[3.82,0.5],[3.82,-8.5],[3.92,2.5],[3.92,-5.5],[3.92,-1.0],
  [4.02,0.5],[4.02,-3.0],[4.02,5.5],[4.12,-6.0],[4.12,2.0],[4.12,-1.5],[4.22,4.0],[4.22,-4.0],[4.22,-9.5],[4.32,0.5],[4.32,-2.5],[4.32,-6.5],[4.42,4.5],[4.42,-1.0],[4.42,-8.0],[4.52,2.0],[4.52,-4.5],[4.52,-12.0],[4.62,-1.0],[4.62,1.5],[4.62,-7.5],[4.72,3.5],[4.72,-2.0],[4.72,-10.0],[4.82,0.5],[4.82,-5.5],[4.82,6.0],[4.92,-3.0],[4.92,2.5],[4.92,-8.0],
  [5.02,0.0],[5.02,-6.5],[5.02,5.5],[5.12,3.0],[5.12,-3.0],[5.12,-9.0],[5.22,-0.5],[5.22,4.5],[5.22,-6.5],[5.32,1.0],[5.32,-4.0],[5.32,-11.0],[5.42,5.0],[5.42,-1.5],[5.42,-8.0],[5.52,2.5],[5.52,-5.5],[5.52,0.0],[5.62,-2.5],[5.62,6.0],[5.62,-7.0],[5.72,2.5],[5.72,-1.0],[5.72,-9.5],[5.82,5.5],[5.82,-5.0],[5.82,0.5],[5.92,-2.5],[5.92,2.5],[5.92,-11.0],
  [6.02,3.5],[6.02,-4.0],[6.02,-1.0],[6.12,1.0],[6.12,-6.0],[6.12,-10.0],[6.22,-2.0],[6.22,3.5],[6.22,-5.0],[6.32,0.5],[6.32,-8.5],[6.32,-3.0],[6.42,-1.5],[6.42,1.5],[6.42,-6.0],
  [0.58,-1.8],[0.58,3.5],[0.68,-6.2],[0.68,1.2],[0.78,4.2],[0.78,-3.6],[0.88,-0.2],[0.88,-8.2],[0.98,2.6],[0.98,-4.8],[1.08,-2.8],[1.08,5.2],[1.18,0.4],[1.18,-7.2],[1.28,3.0],[1.28,-3.8],[1.38,-0.8],[1.38,-9.5],[1.48,4.0],[1.48,-2.2],
  [1.58,-5.8],[1.58,1.2],[1.68,2.8],[1.68,-3.0],[1.78,-7.8],[1.78,5.0],[1.88,-1.5],[1.88,2.2],[1.98,-4.6],[1.98,0.8],[2.08,3.6],[2.08,-7.0],[2.18,-2.6],[2.18,-0.2],[2.28,5.0],[2.28,-6.2],[2.38,-3.8],[2.38,0.5],[2.48,2.6],[2.48,-8.8],
  [2.58,-2.2],[2.58,4.4],[2.68,-6.0],[2.68,0.8],[2.78,2.8],[2.78,-3.2],[2.88,-8.6],[2.88,0.0],[2.98,-4.2],[2.98,3.8],[3.08,-9.8],[3.08,-1.6],[3.18,3.2],[3.18,-5.2],[3.28,-2.8],[3.28,0.8],[3.38,-8.0],[3.38,4.6],[3.48,-3.2],[3.48,0.2],
  [3.58,-6.8],[3.58,2.8],[3.68,-1.0],[3.68,-10.4],[3.78,3.6],[3.78,-5.6],[3.88,-2.0],[3.88,-7.8],[3.98,1.0],[3.98,-4.2],[4.08,-9.0],[4.08,3.0],[4.18,-3.0],[4.18,0.2],[4.28,-7.0],[4.28,4.8],[4.38,-1.8],[4.38,-4.8],[4.48,1.2],[4.48,-10.2],
  [4.58,-6.2],[4.58,3.8],[4.68,-2.5],[4.68,-8.5],[4.78,0.0],[4.78,-4.5],[4.88,4.5],[4.88,-9.8],[4.98,-2.0],[4.98,1.8],[5.08,-7.8],[5.08,3.8],[5.18,-1.2],[5.18,-4.8],[5.28,1.5],[5.28,-9.2],[5.38,-6.0],[5.38,4.2],[5.48,-2.8],[5.48,0.8],
  [5.58,-8.0],[5.58,3.6],[5.68,-4.0],[5.68,1.2],[5.78,-10.2],[5.78,-2.0],[5.88,3.0],[5.88,-6.8],[5.98,-3.5],[5.98,0.5],[6.08,-8.0],[6.08,2.5],[6.18,-4.5],[6.18,-1.0],[6.28,1.5],[6.28,-7.2],[6.38,-4.0],[6.38,0.0],[6.48,-9.0],[6.48,-2.0]
];

// Fitted curve y = -3.807*(e^(0.1495x) - 1), sampled
const seFitX = [0.5, 1, 2, 3, 4, 5, 6, 7, 8, 9, 10, 11, 12, 13, 14, 15];
const seFitY = [-0.296, -0.614, -1.327, -2.155, -3.118, -4.226, -5.522, -7.035, -8.783, -10.814, -13.172, -15.910, -19.090, -22.782, -27.070, -32.050];

const zeXName = 'Output CountRate @ Peak frequency (Z)/MHz';
const seXName = 'Output CountRate @ Peak frequency (S)';
const zeYName = 'Δ T (Z-E)/K';
const seYName = 'Δ T (S-E)/K';

const zip = (xs, ys) => xs.map((x, i) => [x, ys[i]]);

const FONT = '"Liberation Sans", Arial, sans-serif';
const AXIS_GRAY = '#a8a8a8';
const TEXT = '#333333';
const DOT = 'rgba(0,114,189,0.8)';
const FIT = '#e0161e';

function xAxis(gridIndex, max, name) {
  return {
    type: 'value', gridIndex, min: 0, max, interval: 5,
    name, nameLocation: 'middle', nameGap: 27,
    nameTextStyle: { fontFamily: FONT, fontSize: 14, color: TEXT },
    axisLine: { show: true, onZero: false, lineStyle: { color: AXIS_GRAY, width: 1 } },
    axisTick: { show: true, inside: true, length: 4, lineStyle: { color: AXIS_GRAY } },
    axisLabel: { fontFamily: FONT, fontSize: 15, color: TEXT, margin: 7 },
    splitLine: { show: false }
  };
}
function yAxis(gridIndex, min, max, interval, name) {
  return {
    type: 'value', gridIndex, min, max, interval,
    name, nameLocation: 'middle', nameGap: 30,
    nameTextStyle: { fontFamily: FONT, fontSize: 14, color: TEXT },
    axisLine: { show: true, onZero: false, lineStyle: { color: AXIS_GRAY, width: 1 } },
    axisTick: { show: true, inside: true, length: 4, lineStyle: { color: AXIS_GRAY } },
    axisLabel: { fontFamily: FONT, fontSize: 15, color: TEXT, margin: 5 },
    splitLine: { show: false }
  };
}
function dots(idx, data) {
  return {
    type: 'scatter', xAxisIndex: idx, yAxisIndex: idx, data,
    symbol: 'circle', symbolSize: 6, silent: true, large: false,
    itemStyle: { color: 'rgba(255,255,255,0)', borderColor: DOT, borderWidth: 1.1 }
  };
}
function fit(idx, xs, ys) {
  return {
    type: 'line', xAxisIndex: idx, yAxisIndex: idx, data: zip(xs, ys),
    smooth: true, showSymbol: false, silent: true, z: 5,
    lineStyle: { color: FIT, width: 2 }
  };
}

const chart = echarts.init(document.getElementById('chart'), null, { renderer: 'canvas' });
chart.setOption({
  animation: false,
  backgroundColor: '#ffffff',
  grid: [
    { left: 55, right: 557, top: 10, bottom: 50 },
    { left: 600, right: 12, top: 10, bottom: 50 }
  ],
  xAxis: [xAxis(0, 25, zeXName), xAxis(1, 15, seXName)],
  yAxis: [yAxis(0, -40, 80, 20, zeYName), yAxis(1, -40, 20, 10, seYName)],
  series: [
    dots(0, zeScatter.concat(zeDense, zeCore)), fit(0, zeFitX, zeFitY),
    dots(1, seScatter.concat(seDense, seCore)), fit(1, seFitX, seFitY)
  ]
});

// Fit equations, anchored in data coordinates
function equation(gridIndex, at, coef, rate) {
  const p = chart.convertToPixel({ gridIndex }, at);
  return {
    type: 'text', left: p[0], top: p[1] - 10, z: 10,
    style: {
      text: '{b|y=' + coef + '*(e}{s|' + rate + 'x}{b|-1)}',
      rich: {
        b: { fontFamily: FONT, fontSize: 14, fill: '#111', lineHeight: 20, verticalAlign: 'bottom' },
        s: { fontFamily: FONT, fontSize: 10, fill: '#111', lineHeight: 20, verticalAlign: 'top' }
      }
    }
  };
}
chart.setOption({
  graphic: [
    equation(0, [3.0, 58], '1.768', '0.1556'),
    equation(1, [3.0, -32.2], '-3.807', '0.1495')
  ]
});
</script>
</body>
</html>
